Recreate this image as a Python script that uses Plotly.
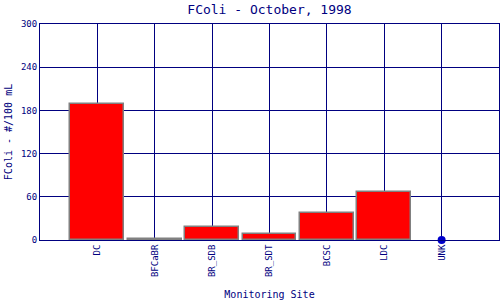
import plotly.graph_objects as go

sites = ["DC", "BFCaBR", "BR_SDB", "BR_SDT", "BCSC", "LDC", "UNK"]
values = [189, 2, 18, 8, 38, 66, None]
zero_sites = ["UNK"]
zero_values = [0]
yticks = [0, 60, 120, 180, 240, 300]

navy = "#000080"
font = "DejaVu Sans Mono"

fig = go.Figure()
fig.add_trace(go.Bar(
    x=sites, y=values, width=0.94,
    marker=dict(color="#FF0000", line=dict(color="#808080", width=1.5)),
))
fig.add_trace(go.Scatter(
    x=zero_sites, y=zero_values, mode="markers",
    marker=dict(color="#0000CC", size=8), cliponaxis=False,
))
fig.update_layout(
    width=500, height=300,
    margin=dict(l=40, r=1, t=24, b=60),
    paper_bgcolor="white", plot_bgcolor="white",
    showlegend=False,
    bargap=0,
    title=dict(text="FColi - October, 1998", x=0.539, xanchor="center",
               y=0.97, yanchor="middle",
               font=dict(family=font, size=13, color=navy)),
    font=dict(family=font, color=navy),
)
fig.update_xaxes(
    categoryorder="array", categoryarray=sites,
    range=[-1, 7], showgrid=True, gridcolor=navy, gridwidth=1,
    showline=True, linecolor=navy, linewidth=1, mirror=True,
    tickangle=-90, ticks="", tickfont=dict(family=font, size=9, color=navy),
    title=dict(text="Monitoring Site", font=dict(family=font, size=10, color=navy), standoff=14),
    zeroline=False,
)
fig.update_yaxes(
    range=[0, 300], tickvals=yticks, showgrid=True, gridcolor=navy, gridwidth=1,
    showline=True, linecolor=navy, linewidth=1, mirror=True,
    ticks="", tickfont=dict(family=font, size=9, color=navy),
    title=dict(text="FColi - #/100 mL", font=dict(family=font, size=10, color=navy), standoff=6),
    zeroline=False,
)
fig.write_html("out.html")
